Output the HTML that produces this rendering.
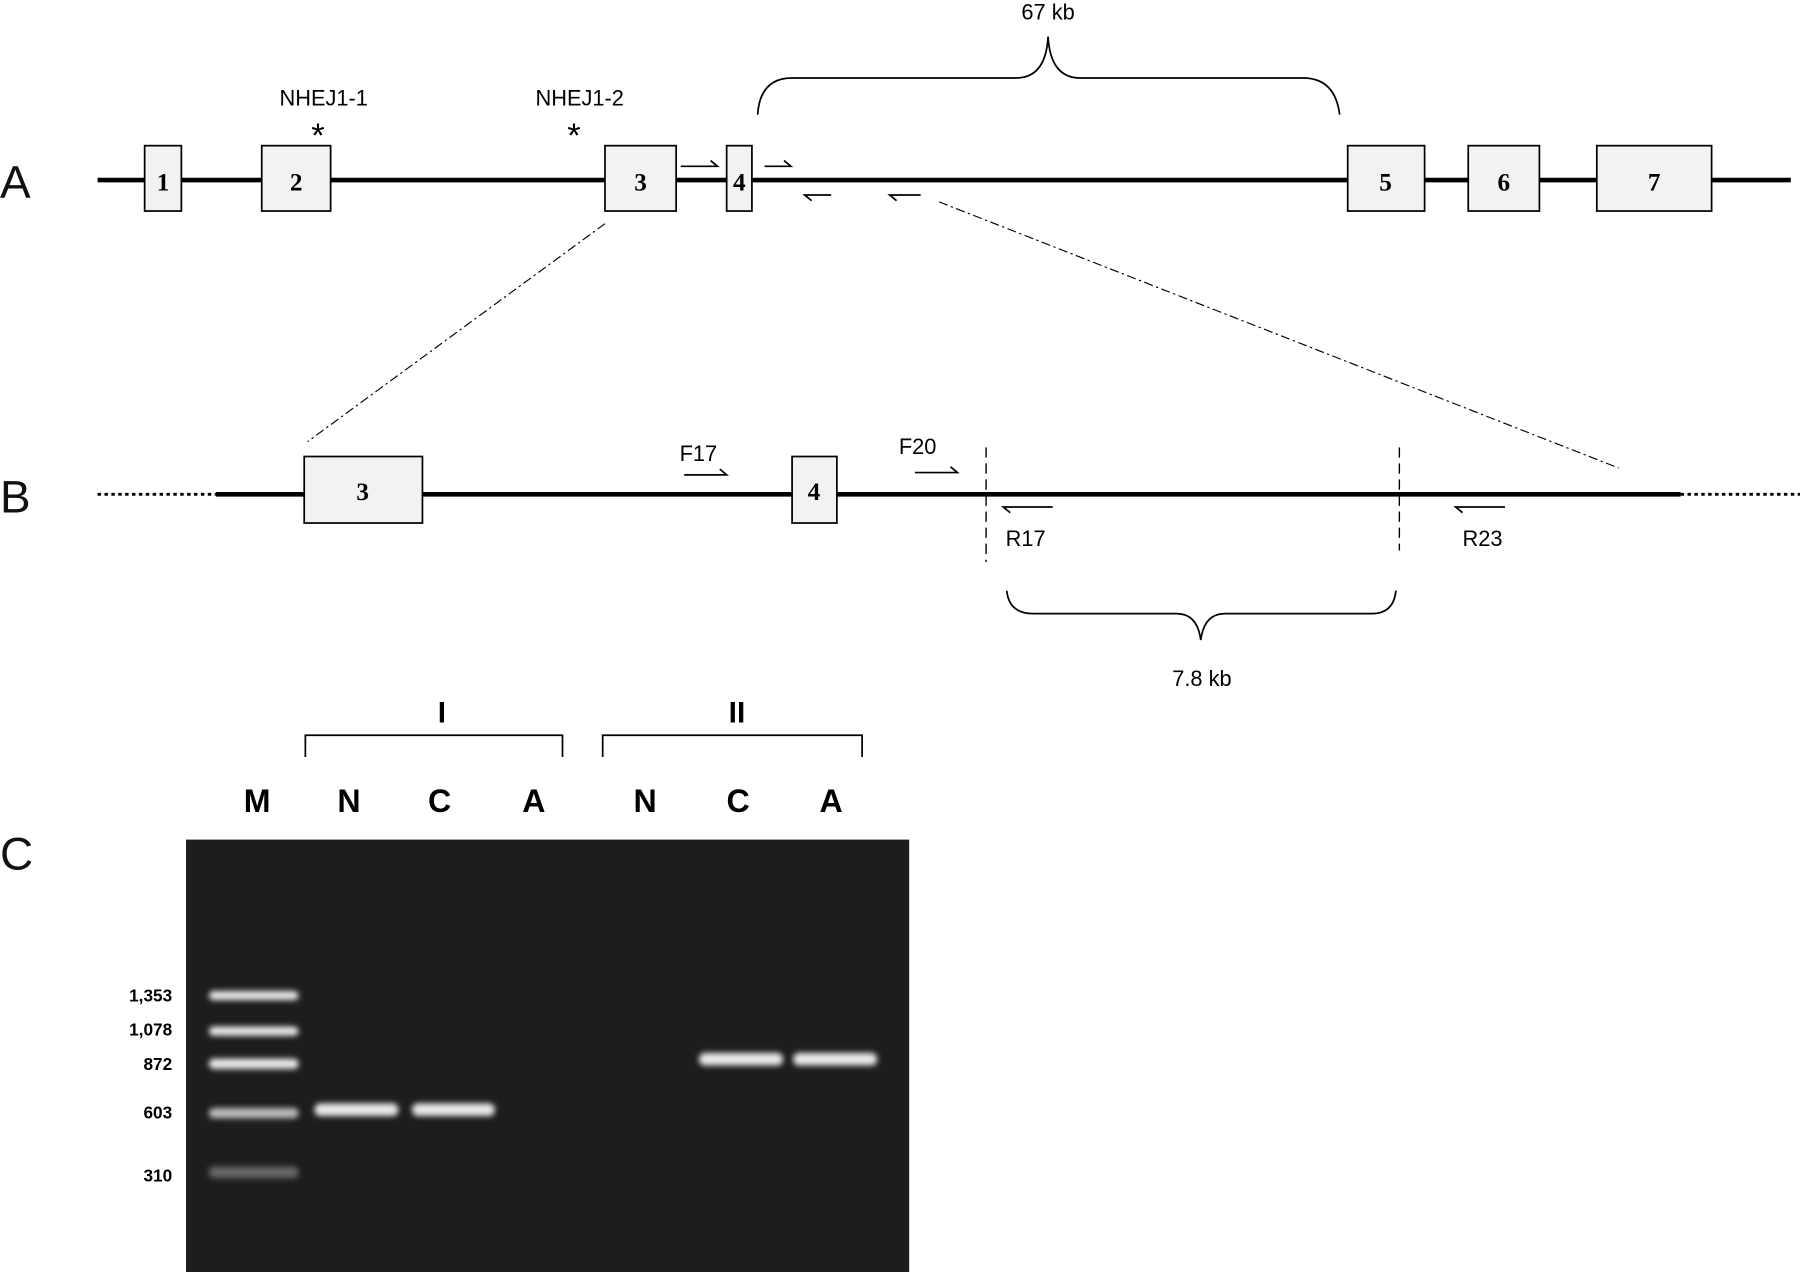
<!DOCTYPE html>
<html><head><style>html,body{margin:0;padding:0;background:#fff;}svg{display:block}</style></head>
<body>
<svg width="1800" height="1272" viewBox="0 0 1568 1109" preserveAspectRatio="none" xmlns="http://www.w3.org/2000/svg" font-family="Liberation Sans, sans-serif">
<defs>
<filter id="blur" x="-20%" y="-100%" width="140%" height="300%"><feGaussianBlur stdDeviation="2.5"/></filter>
</defs>
<!-- Panel A -->
<text x="0" y="172" font-size="40" fill="#111">A</text>
<line x1="85" y1="157" x2="1560" y2="157" stroke="#000" stroke-width="4"/>
<g stroke="#000" stroke-width="1.5" fill="#f2f2f2">
<rect x="126" y="127" width="32" height="57"/>
<rect x="228" y="127" width="60" height="57"/>
<rect x="527" y="127" width="62" height="57"/>
<rect x="633" y="127" width="22" height="57"/>
<rect x="1174" y="127" width="67" height="57"/>
<rect x="1279" y="127" width="62" height="57"/>
<rect x="1391" y="127" width="100" height="57"/>
</g>
<g font-family="Liberation Serif, serif" font-weight="bold" font-size="22" text-anchor="middle">
<text x="142" y="166">1</text><text x="258" y="166">2</text><text x="558" y="166">3</text>
<text x="644" y="166">4</text><text x="1207" y="166">5</text><text x="1310" y="166">6</text><text x="1441" y="166">7</text>
</g>
<text x="282" y="92" font-size="19" text-anchor="middle">NHEJ1-1</text>
<text x="505" y="92" font-size="19" text-anchor="middle">NHEJ1-2</text>
<text x="277" y="128" font-size="30" text-anchor="middle">*</text>
<text x="500" y="128" font-size="30" text-anchor="middle">*</text>
<g stroke="#000" stroke-width="1.5" fill="none">
<path d="M593 145 H625 L619 140"/>
<path d="M666 145 H689 L683 140"/>
<path d="M724 170 H701 L707 175"/>
<path d="M802 170 H775 L781 175"/>
</g>
<text x="913" y="17" font-size="19" text-anchor="middle">67 kb</text>
<path d="M660 100 Q662 68 690 68 H885 Q911 68 913 32 Q915 68 941 68 H1135 Q1163 68 1167 100" stroke="#000" stroke-width="1.5" fill="none"/>
<!-- zoom lines -->
<g stroke="#000" stroke-width="1" stroke-dasharray="8,3,2,3" fill="none">
<line x1="527" y1="195" x2="268" y2="385"/>
<line x1="818" y1="176" x2="1410" y2="408"/>
</g>
<!-- Panel B -->
<text x="0" y="447" font-size="40" fill="#111">B</text>
<line x1="85" y1="431" x2="188" y2="431" stroke="#000" stroke-width="2.5" stroke-dasharray="3,3"/>
<line x1="188" y1="431" x2="1464" y2="431" stroke="#000" stroke-width="4"/>
<line x1="1464" y1="431" x2="1568" y2="431" stroke="#000" stroke-width="2.5" stroke-dasharray="3,3"/>
<g stroke="#000" stroke-width="1.5" fill="#f2f2f2">
<rect x="265" y="398" width="103" height="58"/>
<rect x="690" y="398" width="39" height="58"/>
</g>
<g font-family="Liberation Serif, serif" font-weight="bold" font-size="22" text-anchor="middle">
<text x="316" y="436">3</text><text x="709" y="436">4</text>
</g>
<g stroke="#000" stroke-width="1.2" stroke-dasharray="9,5">
<line x1="859" y1="390" x2="859" y2="490"/>
<line x1="1219" y1="390" x2="1219" y2="480"/>
</g>
<g stroke="#000" stroke-width="1.5" fill="none">
<path d="M596 414 H633 L627 409"/>
<path d="M797 412 H834 L828 407"/>
<path d="M917 442 H874 L880 447"/>
<path d="M1311 442 H1268 L1274 447"/>
</g>
<g font-size="19">
<text x="592" y="402">F17</text><text x="783" y="396">F20</text>
<text x="876" y="476">R17</text><text x="1274" y="476">R23</text>
</g>
<path d="M877 515 Q879 535 900 535 H1025 Q1043 535 1046 558 Q1049 535 1067 535 H1195 Q1214 535 1216 515" stroke="#000" stroke-width="1.5" fill="none"/>
<text x="1047" y="598" font-size="19" text-anchor="middle">7.8 kb</text>
<!-- Panel C -->
<text x="385" y="630" font-size="26" font-weight="bold" text-anchor="middle">I</text>
<text x="642" y="630" font-size="26" font-weight="bold" text-anchor="middle">II</text>
<g stroke="#000" stroke-width="1.5" fill="none">
<path d="M266 660 V641 H490 V660"/>
<path d="M525 660 V641 H751 V660"/>
</g>
<g font-size="28" font-weight="bold" text-anchor="middle">
<text x="224" y="708">M</text><text x="304" y="708">N</text><text x="383" y="708">C</text><text x="465" y="708">A</text>
<text x="562" y="708">N</text><text x="643" y="708">C</text><text x="724" y="708">A</text>
</g>
<text x="0" y="758" font-size="40" fill="#111">C</text>
<rect x="162" y="732" width="630" height="377" fill="#1d1d1d"/>
<g fill="#e8e8e8" filter="url(#blur)">
<rect x="182" y="864" width="78" height="8" rx="4"/>
<rect x="182" y="895" width="78" height="8" rx="4"/>
<rect x="182" y="923" width="78" height="9" rx="4"/>
<rect x="182" y="966" width="78" height="9" rx="4" fill="#bbb"/>
<rect x="182" y="1017" width="78" height="10" rx="4" fill="#666"/>
<rect x="274" y="962" width="73" height="11" rx="5"/>
<rect x="359" y="962" width="72" height="11" rx="5"/>
<rect x="609" y="918" width="73" height="11" rx="5"/>
<rect x="691" y="918" width="73" height="11" rx="5"/>
</g>
<g font-size="15" font-weight="bold" text-anchor="end" font-family="Liberation Sans Narrow, Liberation Sans, sans-serif">
<text x="150" y="873">1,353</text><text x="150" y="903">1,078</text><text x="150" y="933">872</text>
<text x="150" y="975">603</text><text x="150" y="1030">310</text>
</g>
</svg>
</body></html>
